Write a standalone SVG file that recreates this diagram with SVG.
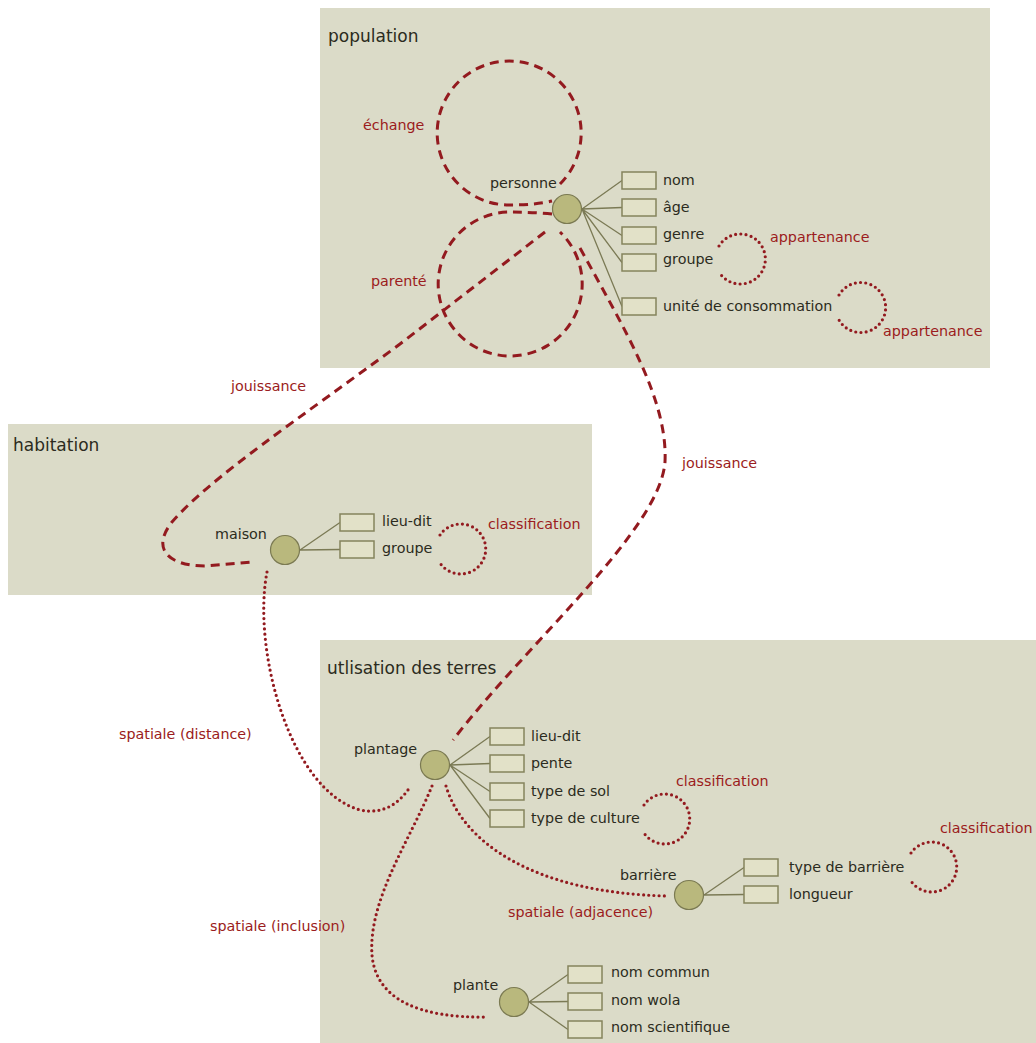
<svg xmlns="http://www.w3.org/2000/svg" width="1036" height="1043" viewBox="0 0 1036 1043">
  <style>
    .panel { fill: #dbdbc8; }
    .title { font-family: "DejaVu Sans", Verdana, sans-serif; font-size: 17px; fill: #2b2b20; }
    .lbl { font-family: "DejaVu Sans", Verdana, sans-serif; font-size: 14.3px; fill: #2b2b20; }
    .rel { font-family: "DejaVu Sans", Verdana, sans-serif; font-size: 14.3px; fill: #9b1c20; }
    .ent { fill: #b9b87d; stroke: #7b7a52; stroke-width: 1.2; }
    .attr { fill: #e2e1c8; stroke: #85845c; stroke-width: 1.5; }
    .link { stroke: #7b7a55; stroke-width: 1.3; fill: none; }
    .dash { stroke: #931a1f; stroke-width: 3; fill: none; stroke-dasharray: 9 6; }
    .dot { stroke: #931a1f; stroke-width: 3.2; fill: none; stroke-dasharray: 0 5.2; stroke-linecap: round; }
  </style>

  <!-- domain panels -->
  <rect class="panel" x="320" y="8" width="670" height="360"/>
  <rect class="panel" x="8" y="424" width="584" height="171"/>
  <rect class="panel" x="320" y="640" width="716" height="403"/>
  <text class="title" x="328" y="42">population</text>
  <text class="title" x="13" y="451">habitation</text>
  <text class="title" x="327" y="674">utlisation des terres</text>

  <!-- relations between entities -->
  <g id="connectors">
    <!-- échange (self loop) -->
    <path class="dash" d="M 560 184 A 72 72 0 1 0 509 205 Q 535 205 552 201"/>
    <!-- parenté (self loop) -->
    <path class="dash" d="M 552 214 Q 530 212 509 212 A 72 72 0 1 0 560 232"/>
    <!-- jouissance personne - maison -->
    <path class="dash" d="M 545 232 L 400 344 C 300 418 210 478 172 522 C 150 550 170 566 205 566 L 252 562"/>
    <!-- jouissance personne - plantage -->
    <path class="dash" d="M 580 248 C 625 330 668 400 665 462 C 660 530 530 640 453 740"/>
    <!-- spatiale (distance) -->
    <path class="dot" d="M 267 572 C 252 650 290 790 360 810 C 385 815 400 802 410 787"/>
    <!-- spatiale (adjacence) -->
    <path class="dot" d="M 446 786 C 462 840 530 893 668 896"/>
    <!-- spatiale (inclusion) -->
    <path class="dot" d="M 432 786 C 410 840 368 900 372 955 C 376 1000 420 1018 486 1017"/>
    <!-- classification / appartenance self loops -->
    <path class="dot" d="M 719 246 A 25 25 0 1 1 719 272"/>
    <path class="dot" d="M 839 295 A 25 25 0 1 1 839 320"/>
    <path class="dot" d="M 440 535 A 25 25 0 1 1 440 563"/>
    <path class="dot" d="M 644 805 A 25 25 0 1 1 644 833"/>
    <path class="dot" d="M 911 853 A 25 25 0 1 1 911 881"/>

    <text class="rel" x="363" y="130">échange</text>
    <text class="rel" x="371" y="286">parenté</text>
    <text class="rel" x="231" y="391">jouissance</text>
    <text class="rel" x="682" y="468">jouissance</text>
    <text class="rel" x="770" y="242">appartenance</text>
    <text class="rel" x="883" y="336">appartenance</text>
    <text class="rel" x="488" y="529">classification</text>
    <text class="rel" x="676" y="786">classification</text>
    <text class="rel" x="940" y="833">classification</text>
    <text class="rel" x="119" y="739">spatiale (distance)</text>
    <text class="rel" x="508" y="917">spatiale (adjacence)</text>
    <text class="rel" x="210" y="931">spatiale (inclusion)</text>
  </g>

  <!-- personne -->
  <g id="personne">
    <path class="link" d="M 582 209 L 622 180.5 M 582 209 L 622 207.5 M 582 209 L 622 235.5 M 582 209 L 622 262.5 M 582 209 L 622 306.5"/>
    <circle class="ent" cx="567" cy="209" r="14.5"/>
    <text class="lbl" x="490" y="188">personne</text>
    <rect class="attr" x="622" y="172" width="34" height="17"/>
    <rect class="attr" x="622" y="199" width="34" height="17"/>
    <rect class="attr" x="622" y="227" width="34" height="17"/>
    <rect class="attr" x="622" y="254" width="34" height="17"/>
    <rect class="attr" x="622" y="298" width="34" height="17"/>
    <text class="lbl" x="663" y="185">nom</text>
    <text class="lbl" x="663" y="212">âge</text>
    <text class="lbl" x="663" y="239">genre</text>
    <text class="lbl" x="663" y="264">groupe</text>
    <text class="lbl" x="663" y="311">unité de consommation</text>
  </g>

  <!-- maison -->
  <g id="maison">
    <path class="link" d="M 300 550 L 340 522.5 M 300 550 L 340 549.5"/>
    <circle class="ent" cx="285" cy="550" r="14.5"/>
    <text class="lbl" x="215" y="539">maison</text>
    <rect class="attr" x="340" y="514" width="34" height="17"/>
    <rect class="attr" x="340" y="541" width="34" height="17"/>
    <text class="lbl" x="382" y="526">lieu-dit</text>
    <text class="lbl" x="382" y="553">groupe</text>
  </g>

  <!-- plantage -->
  <g id="plantage">
    <path class="link" d="M 450 765 L 490 736.5 M 450 765 L 490 763.5 M 450 765 L 490 791.5 M 450 765 L 490 818.5"/>
    <circle class="ent" cx="435" cy="765" r="14.5"/>
    <text class="lbl" x="354" y="754">plantage</text>
    <rect class="attr" x="490" y="728" width="34" height="17"/>
    <rect class="attr" x="490" y="755" width="34" height="17"/>
    <rect class="attr" x="490" y="783" width="34" height="17"/>
    <rect class="attr" x="490" y="810" width="34" height="17"/>
    <text class="lbl" x="531" y="741">lieu-dit</text>
    <text class="lbl" x="531" y="768">pente</text>
    <text class="lbl" x="531" y="796">type de sol</text>
    <text class="lbl" x="531" y="823">type de culture</text>
  </g>

  <!-- barrière -->
  <g id="barriere">
    <path class="link" d="M 704 895 L 744 867.5 M 704 895 L 744 894.5"/>
    <circle class="ent" cx="689" cy="895" r="14.5"/>
    <text class="lbl" x="620" y="880">barrière</text>
    <rect class="attr" x="744" y="859" width="34" height="17"/>
    <rect class="attr" x="744" y="886" width="34" height="17"/>
    <text class="lbl" x="789" y="872">type de barrière</text>
    <text class="lbl" x="789" y="899">longueur</text>
  </g>

  <!-- plante -->
  <g id="plante">
    <path class="link" d="M 529 1002 L 568 974.5 M 529 1002 L 568 1001.5 M 529 1002 L 568 1029.5"/>
    <circle class="ent" cx="514" cy="1002" r="14.5"/>
    <text class="lbl" x="453" y="990">plante</text>
    <rect class="attr" x="568" y="966" width="34" height="17"/>
    <rect class="attr" x="568" y="993" width="34" height="17"/>
    <rect class="attr" x="568" y="1021" width="34" height="17"/>
    <text class="lbl" x="611" y="977">nom commun</text>
    <text class="lbl" x="611" y="1005">nom wola</text>
    <text class="lbl" x="611" y="1032">nom scientifique</text>
  </g>
</svg>
